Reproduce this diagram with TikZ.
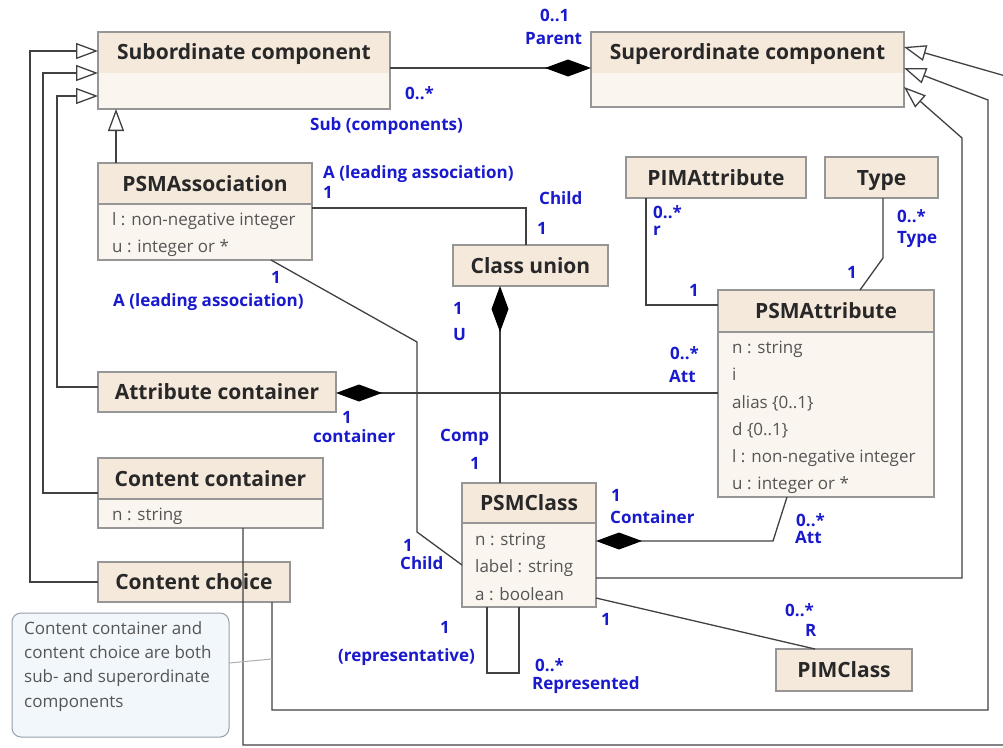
\documentclass[tikz,border=0pt]{standalone}
\usepackage{fontspec}
\setmainfont{Open Sans}
\usetikzlibrary{arrows.meta,calc}
\definecolor{headfill}{RGB}{245,233,220}
\definecolor{bodyfill}{RGB}{251,245,239}
\definecolor{bordc}{RGB}{150,150,150}
\definecolor{linec}{RGB}{65,65,65}
\definecolor{labblue}{RGB}{25,25,205}
\definecolor{titlec}{RGB}{40,40,40}
\definecolor{attrc}{RGB}{85,85,85}
\definecolor{notefill}{RGB}{242,247,252}
\definecolor{notebord}{RGB}{150,160,170}
\definecolor{noteline}{RGB}{175,175,175}
\tikzset{
 box/.style={draw=bordc, fill=bodyfill, anchor=north west, inner sep=0pt, outer sep=0pt, line width=1.1pt},
 ttl/.style={anchor=base, inner sep=0pt, text=titlec, font=\fontsize{21}{25}\selectfont\bfseries},
 attr/.style={anchor=base west, inner sep=0pt, text=attrc, font=\fontsize{17}{20}\selectfont},
 lbl/.style={anchor=base west, inner sep=0pt, text=labblue, font=\fontsize{17}{20}\selectfont\bfseries},
 conn/.style={draw=linec, line width=1.3pt},
 gen/.style={conn, -{Triangle[length=22pt,width=16pt,fill=white,line width=1.3pt]}},
 comp/.style={conn, {Diamond[length=46pt,width=17pt,color=black]}-},
 notebox/.style={draw=notebord, fill=notefill, rounded corners=9pt, anchor=north west, inner sep=0pt, outer sep=0pt, line width=1pt},
 notetxt/.style={anchor=north west, inner sep=0pt, align=left, text=attrc, font=\fontsize{17}{24.4}\selectfont},
}
% #1 name, #2 x, #3 y, #4 width, #5 height, #6 header height, #7 title, #8 separator colour
\newcommand{\umlcls}[8]{%
 \node[box, minimum width=#4pt, minimum height=#5pt] (#1) at (#2,#3) {};
 \fill[headfill] (#1.north west) rectangle ([yshift=-#6pt]#1.north east);
 \draw[#8, line width=1.1pt] ([yshift=-#6pt]#1.north west) -- ([yshift=-#6pt]#1.north east);
 \draw[bordc, line width=1.1pt] (#1.north west) rectangle (#1.south east);
 \node[ttl] (#1t) at ([yshift=-#6pt/2-7.5pt]#1.north) {#7};
}
\begin{document}
\begin{tikzpicture}[x=1pt,y=-1pt]
\useasboundingbox (0,0) rectangle (1003,747);
\clip (0,0) rectangle (1003,747);
\fill[white] (0,0) rectangle (1003,747);

% ---------- classes ----------
\umlcls{sub}{98}{32}{292}{77}{40}{Subordinate component}{headfill}
\umlcls{sup}{591}{32}{313}{75}{40}{Superordinate component}{headfill}
\umlcls{psma}{98}{163}{214}{97}{41}{PSMAssociation}{bordc}
\umlcls{cu}{453}{245}{155}{41}{41}{Class union}{bordc}
\umlcls{pima}{626}{157}{180}{41}{41}{PIMAttribute}{bordc}
\umlcls{type}{825}{157}{113}{41}{41}{Type}{bordc}
\umlcls{psmat}{718}{290}{216}{207}{42}{PSMAttribute}{bordc}
\umlcls{ac}{98}{372}{238}{40}{40}{Attribute container}{bordc}
\umlcls{ccont}{98}{458}{225}{70}{41}{Content container}{bordc}
\umlcls{cchoice}{98}{562}{192}{40}{40}{Content choice}{bordc}
\umlcls{psmc}{462}{483}{134}{124}{40}{PSMClass}{bordc}
\umlcls{pimc}{776}{649}{136}{42}{42}{PIMClass}{bordc}

% attributes
\node[attr] (psmaa1) at (112,225.5) {l : non-negative integer};
\node[attr] (psmaa2) at (112,252.5) {u : integer or *};
\node[attr] (psmata1) at (732,353.5) {n : string};
\node[attr] (psmata2) at (732,380.5) {i};
\node[attr] (psmata3) at (732,408.5) {alias \{0..1\}};
\node[attr] (psmata4) at (732,435.5) {d \{0..1\}};
\node[attr] (psmata5) at (732,462.5) {l : non-negative integer};
\node[attr] (psmata6) at (732,489.5) {u : integer or *};
\node[attr] (psmca1) at (475,545.5) {n : string};
\node[attr] (psmca2) at (475,572.5) {label : string};
\node[attr] (psmca3) at (475,600.5) {a : boolean};
\node[attr] (cconta1) at (112,520.5) {n : string};

% note
\node[notebox, minimum width=217pt, minimum height=124pt] (note) at (12,613) {};
\node[notetxt] (notet) at (24,621) {Content container and\\content choice are both\\sub- and superordinate\\components};

% ---------- connectors ----------
% generalisations into Subordinate component
\draw[gen] (cchoice.west) -- ++(-68,0) |- ($(sub.north west)+(0,19)$);
\draw[gen] ($(ccont.north west)+(0,35)$) -- ++(-55,0) |- ($(sub.north west)+(0,41)$);
\draw[gen] ($(ac.north west)+(0,15)$) -- ++(-41,0) |- ($(sub.north west)+(0,64)$);
\draw[gen] ($(psma.north west)+(18,0)$) -- ($(sub.south west)+(18,0)$);

% generalisations into Superordinate component
\draw[gen] ($(psmc.north east)+(0,95)$) -- ++(366,0) -- ++(0,-440) -- ($(sup.north east)+(0,55)$);
\draw[gen] ($(cchoice.south west)+(174,0)$) -- ++(0,108) -- ++(716,0) -- ++(0,-610) -- ($(sup.north east)+(0,36)$);
\draw[gen] ($(ccont.south west)+(145,0)$) -- ++(0,217) -- ++(787,0) -- ++(0,-662) -- ($(sup.north east)+(0,15)$);

% compositions
\draw[comp] ($(sup.north west)+(0,36)$) -- ($(sub.north east)+(0,36)$);
\draw[comp] ($(cu.south west)+(47,0)$) -- ($(psmc.north west)+(38,0)$);
\draw[comp] ($(ac.north east)+(0,21)$) -- ($(psmat.north west)+(0,103)$);
\draw[comp] ($(psmc.north east)+(0,58)$) -- ++(177,0) -- ($(psmat.south west)+(69,0)$);

% associations
\draw[conn] ($(psma.north east)+(0,45)$) -| ($(cu.north west)+(73,0)$);
\draw[conn] ($(psma.south west)+(173,0)$) -- ++(146,82) -- ++(0,190) -- ($(psmc.north west)+(0,82)$);
\draw[conn] ($(pima.south west)+(20,0)$) |- ($(psmat.north west)+(0,15)$);
\draw[conn] ($(type.south west)+(58,0)$) -- ++(0,60) -- ($(psmat.north west)+(142,0)$);
\draw[conn] ($(psmc.north east)+(0,115)$) -- ($(pimc.north west)+(39,0)$);
\draw[conn] ($(psmc.south west)+(25,0)$) -- ++(0,66) -- ++(32,0) -- ($(psmc.south west)+(57,0)$);

% note anchor
\coordinate (noteanc) at ($(cchoice.south west)+(174,57)$);
\draw[noteline, line width=1pt] ($(note.north east)+(0,50)$) -- (noteanc);

% ---------- role labels ----------
\node[lbl] (r1) at (540,21) {0..1};
\node[lbl] (r2) at (525,44) {Parent};
\node[lbl] (r3) at (405,99) {0..*};
\node[lbl] (r4) at (310,130) {Sub (components)};
\node[lbl] (r5) at (323,178) {A (leading association)};
\node[lbl] (r6) at (323,198) {1};
\node[lbl] (r7) at (539,204) {Child};
\node[lbl] (r8) at (537,234) {1};
\node[lbl] (r9) at (271,283) {1};
\node[lbl] (r10) at (113,306) {A (leading association)};
\node[lbl] (r11) at (453,314) {1};
\node[lbl] (r12) at (453,340) {U};
\node[lbl] (r13) at (653,218) {0..*};
\node[lbl] (r14) at (653,235) {r};
\node[lbl] (r15) at (689,296) {1};
\node[lbl] (r16) at (897,222) {0..*};
\node[lbl] (r17) at (897,243) {Type};
\node[lbl] (r18) at (847,278) {1};
\node[lbl] (r19) at (670,359) {0..*};
\node[lbl] (r20) at (669,382) {Att};
\node[lbl] (r21) at (342,423) {1};
\node[lbl] (r22) at (313,442) {container};
\node[lbl] (r23) at (440,441) {Comp};
\node[lbl] (r24) at (470,469) {1};
\node[lbl] (r25) at (403,551) {1};
\node[lbl] (r26) at (400,569) {Child};
\node[lbl] (r27) at (440,633) {1};
\node[lbl] (r28) at (338,661) {(representative)};
\node[lbl] (r29) at (611,501) {1};
\node[lbl] (r30) at (610,523) {Container};
\node[lbl] (r31) at (796,526) {0..*};
\node[lbl] (r32) at (795,543) {Att};
\node[lbl] (r33) at (601,625) {1};
\node[lbl] (r34) at (785,616) {0..*};
\node[lbl] (r35) at (805,636) {R};
\node[lbl] (r36) at (535,671) {0..*};
\node[lbl] (r37) at (532,689) {Represented};
\end{tikzpicture}
\end{document}
